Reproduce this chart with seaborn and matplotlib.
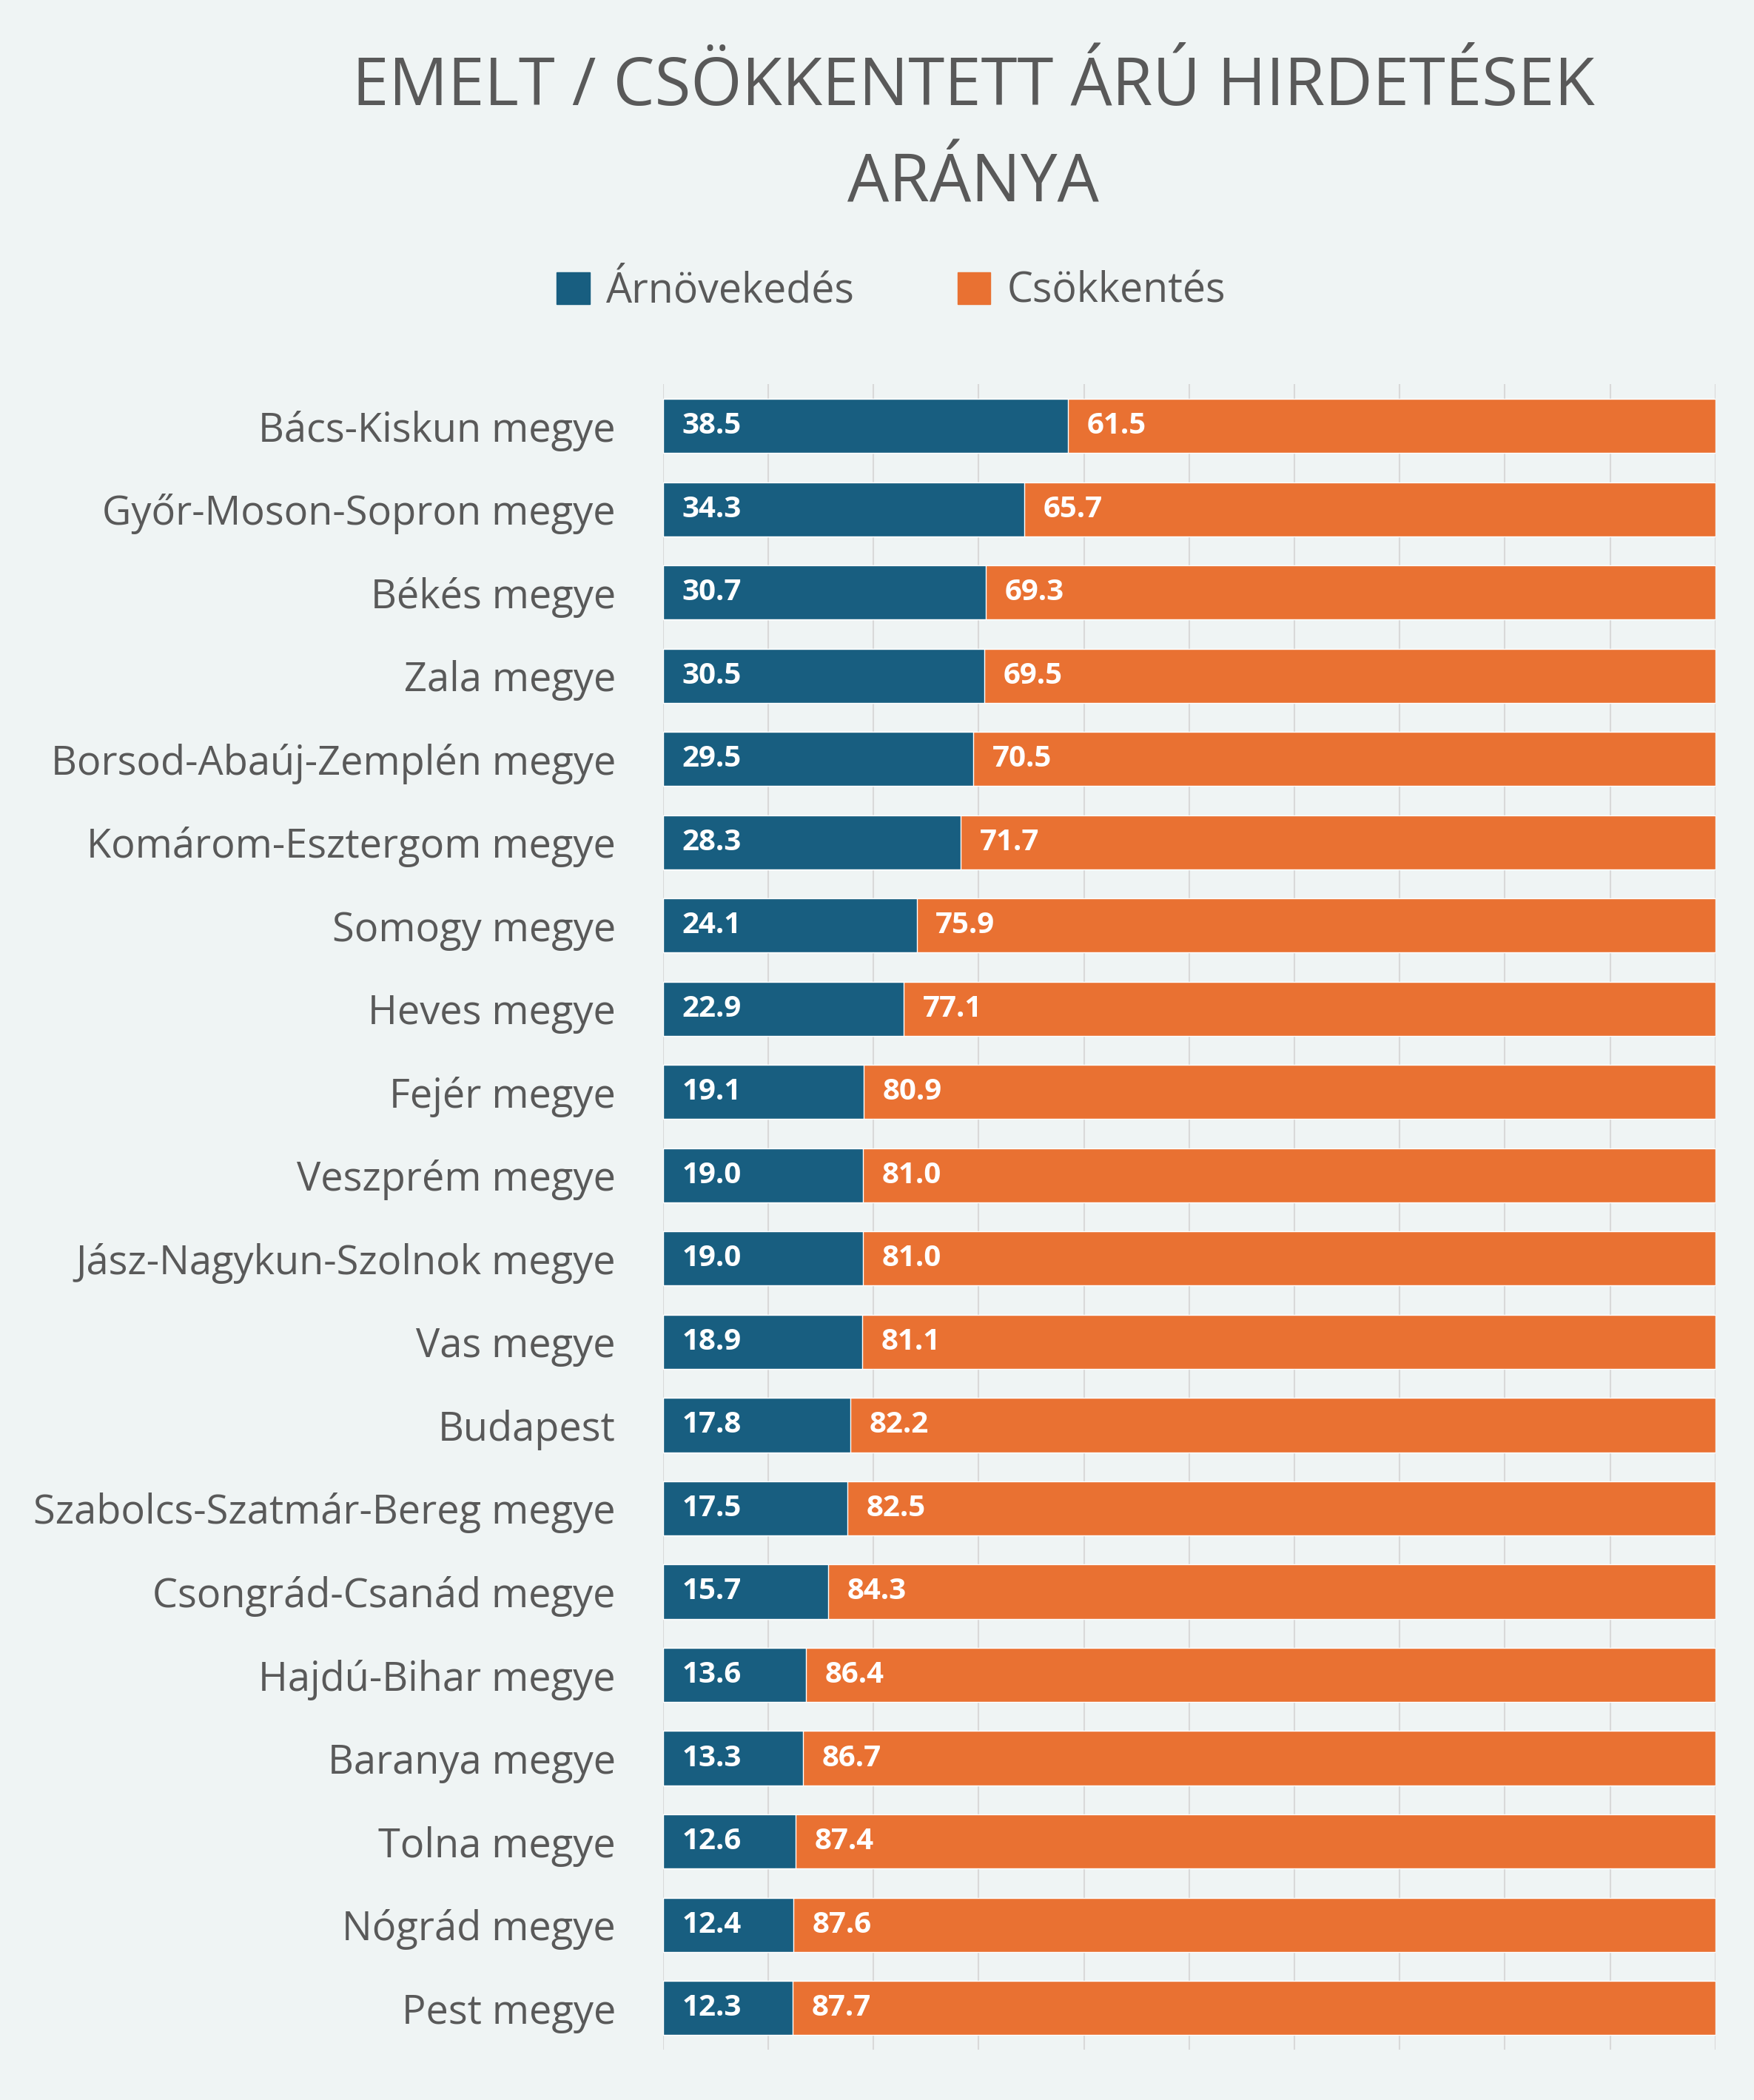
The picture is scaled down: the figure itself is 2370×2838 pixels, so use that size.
import numpy as np
import pandas as pd
import matplotlib
matplotlib.use("Agg")
import matplotlib.pyplot as plt
import seaborn as sns
from matplotlib.patches import Patch

counties = ["Bács-Kiskun megye", "Győr-Moson-Sopron megye", "Békés megye", "Zala megye",
            "Borsod-Abaúj-Zemplén megye", "Komárom-Esztergom megye", "Somogy megye",
            "Heves megye", "Fejér megye", "Veszprém megye", "Jász-Nagykun-Szolnok megye",
            "Vas megye", "Budapest", "Szabolcs-Szatmár-Bereg megye", "Csongrád-Csanád megye",
            "Hajdú-Bihar megye", "Baranya megye", "Tolna megye", "Nógrád megye", "Pest megye"]
increase = [38.5, 34.3, 30.7, 30.5, 29.5, 28.3, 24.1, 22.9, 19.1, 19.0, 19.0, 18.9,
            17.8, 17.5, 15.7, 13.6, 13.3, 12.6, 12.4, 12.3]
decrease = [61.5, 65.7, 69.3, 69.5, 70.5, 71.7, 75.9, 77.1, 80.9, 81.0, 81.0, 81.1,
            82.2, 82.5, 84.3, 86.4, 86.7, 87.4, 87.6, 87.7]

BG = "#EFF4F4"
BLUE = "#185E80"
ORANGE = "#E97132"
GRAY = "#595959"

sns.set_theme(style="white")
plt.rcParams['font.family'] = ['Open Sans', 'DejaVu Sans']

df = pd.DataFrame({"megye": counties, "inc": increase, "dec": decrease})
df["total"] = df["inc"] + df["dec"]

fig = plt.figure(figsize=(23.7, 28.38), dpi=100, facecolor=BG)
ax = fig.add_axes([0.378, 0.024, 0.6, 0.793])
ax.set_facecolor(BG)

sns.barplot(data=df, x="total", y="megye", color=ORANGE, saturation=1, width=0.65, ax=ax)
sns.barplot(data=df, x="inc", y="megye", color=BLUE, saturation=1, width=0.65, ax=ax)

for i, (a, b) in enumerate(zip(increase, decrease)):
    ax.text(1.8, i, f"{a:.1f}", color="white", fontsize=29, fontweight="bold", va="center")
    ax.text(a + 1.8, i, f"{b:.1f}", color="white", fontsize=29, fontweight="bold", va="center")

ax.set_xlim(0, 100)
ax.set_ylim(len(counties) - 0.5, -0.5)
ax.set_xticks(np.arange(0, 101, 10))
ax.xaxis.grid(True, color="#D9D9D9", linewidth=1.5)
ax.set_axisbelow(True)
ax.tick_params(axis="x", bottom=False, labelbottom=False)
ax.tick_params(axis="y", left=False, labelsize=39, labelcolor=GRAY, pad=40)
for s in ax.spines.values():
    s.set_visible(False)
ax.set_xlabel("")
ax.set_ylabel("")

fig.text(0.555, 0.958, "EMELT / CSÖKKENTETT ÁRÚ HIRDETÉSEK", ha="center", va="center",
         fontsize=64, color=GRAY)
fig.text(0.555, 0.912, "ARÁNYA", ha="center", va="center", fontsize=64, color=GRAY)

handles = [Patch(color=BLUE, label="Árnövekedés"), Patch(color=ORANGE, label="Csökkentés")]
fig.legend(handles=handles, loc="center", bbox_to_anchor=(0.508, 0.861), ncol=2,
           frameon=False, fontsize=40, labelcolor=GRAY, handlelength=0.8, handleheight=0.8,
           columnspacing=2.5, handletextpad=0.4)

fig.savefig("out.png", dpi=100, facecolor=BG)
